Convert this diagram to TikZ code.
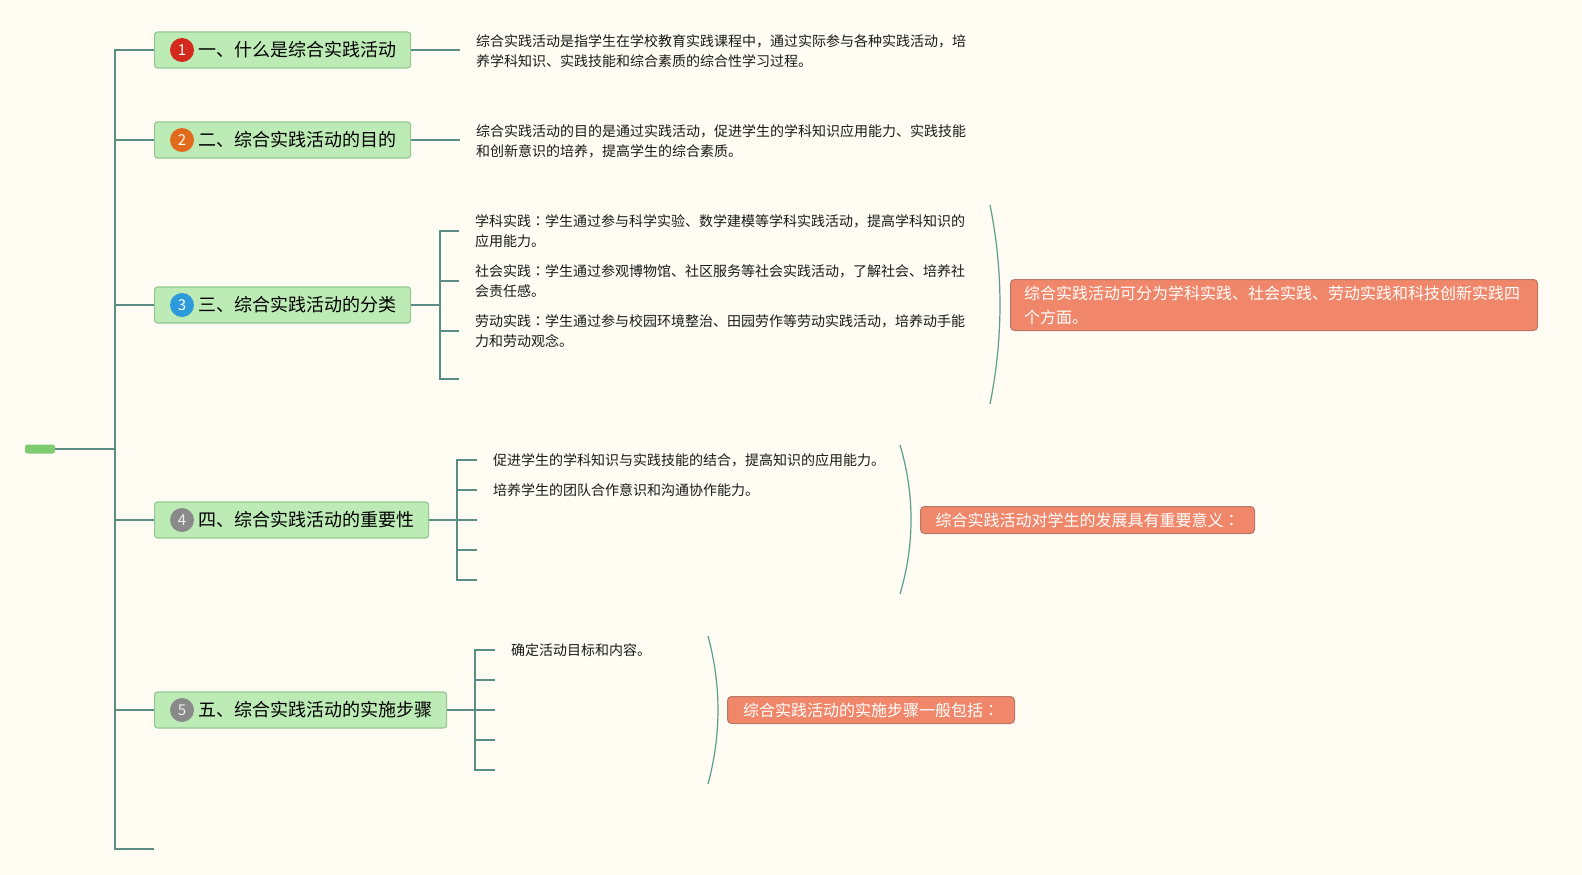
\documentclass[tikz,border=0pt]{standalone}
\usepackage{fontspec}
\setmainfont{Noto Sans CJK SC}
\newfontfamily\tcfont{Noto Sans CJK TC}
\newcommand{\cc}{{\tcfont ：}}
\usetikzlibrary{calc}
\definecolor{bg}{HTML}{FEFCF3}
\definecolor{conn}{HTML}{5C8D84}
\definecolor{curvec}{HTML}{5E9D8C}
\definecolor{gfill}{HTML}{BDEBB5}
\definecolor{gdraw}{HTML}{94C892}
\definecolor{ofill}{HTML}{F0876A}
\definecolor{odraw}{HTML}{B87A66}
\definecolor{rootc}{HTML}{7DCB6E}
\definecolor{ic1}{HTML}{D42A1E}
\definecolor{ic2}{HTML}{E26A1C}
\definecolor{ic3}{HTML}{2C9ADB}
\definecolor{ic4}{HTML}{8A8A8A}
\definecolor{txt}{HTML}{1A1A1A}
\tikzset{
  topic/.style={draw=gdraw, fill=gfill, line width=1.2pt, rounded corners=3pt, anchor=west,
    minimum height=36pt, inner xsep=14.5pt, inner ysep=0pt, text=black,
    font=\fontsize{18}{22}\selectfont},
  icon/.style={circle, minimum size=24pt, inner sep=0pt, text=white, font=\fontsize{15}{15}\selectfont},
  detail/.style={anchor=west, align=left, inner xsep=16pt, inner ysep=0pt, text=txt,
    font=\fontsize{14}{20}\selectfont},
  summary/.style={draw=odraw, fill=ofill, line width=1pt, rounded corners=4pt, anchor=west,
    text=white, inner ysep=0pt, font=\fontsize{16}{24}\selectfont},
  cline/.style={draw=conn, line width=2pt},
  brace/.style={draw=curvec, line width=1.2pt},
}
\begin{document}
\begin{tikzpicture}[x=1pt, y=-1pt]
\fill[bg] (0,0) rectangle (1582,875);
\useasboundingbox (0,0) rectangle (1582,875);

% root
\node[fill=rootc, rounded corners=2.5pt, minimum width=30pt, minimum height=9pt, inner sep=0pt] (root) at (40,449) {};
\coordinate (trunk) at (115,449);
\coordinate (tbot) at (154,849);

% topics
\node[topic] (n1) at (154,50) {\hspace*{29pt}一、什么是综合实践活动};
\node[topic] (n2) at (154,140) {\hspace*{29pt}二、综合实践活动的目的};
\node[topic] (n3) at (154,305) {\hspace*{29pt}三、综合实践活动的分类};
\node[topic] (n4) at (154,520) {\hspace*{29pt}四、综合实践活动的重要性};
\node[topic] (n5) at (154,710) {\hspace*{29pt}五、综合实践活动的实施步骤};

\node[icon, fill=ic1] (i1) at ($(n1.west)+(28,0)$) {1};
\node[icon, fill=ic2] (i2) at ($(n2.west)+(28,0)$) {2};
\node[icon, fill=ic3] (i3) at ($(n3.west)+(28,0)$) {3};
\node[icon, fill=ic4, text=white!88!gray] (i4) at ($(n4.west)+(28,0)$) {4};
\node[icon, fill=ic4, text=white!88!gray] (i5) at ($(n5.west)+(28,0)$) {5};

% trunk
\draw[cline] (n1.west) -- (n1.west -| trunk) -- (tbot -| trunk) -- (tbot);
\draw[cline] (root.east) -- (trunk);
\draw[cline] (n2.west) -- (n2.west -| trunk);
\draw[cline] (n3.west) -- (n3.west -| trunk);
\draw[cline] (n4.west) -- (n4.west -| trunk);
\draw[cline] (n5.west) -- (n5.west -| trunk);

% details 1, 2
\node[detail] (t1) at (460,51) {综合实践活动是指学生在学校教育实践课程中，通过实际参与各种实践活动，培\\养学科知识、实践技能和综合素质的综合性学习过程。};
\node[detail] (t2) at (460,141) {综合实践活动的目的是通过实践活动，促进学生的学科知识应用能力、实践技能\\和创新意识的培养，提高学生的综合素质。};
\draw[cline] (n1.east) -- (t1.west |- n1.east);
\draw[cline] (n2.east) -- (t2.west |- n2.east);

% topic 3
\coordinate (k3) at (440,305);
\coordinate (e3) at (459,379);
\node[detail] (t3a) at (459,231) {学科实践\cc 学生通过参与科学实验、数学建模等学科实践活动，提高学科知识的\\应用能力。};
\node[detail] (t3b) at (459,281) {社会实践\cc 学生通过参观博物馆、社区服务等社会实践活动，了解社会、培养社\\会责任感。};
\node[detail] (t3c) at (459,331) {劳动实践\cc 学生通过参与校园环境整治、田园劳作等劳动实践活动，培养动手能\\力和劳动观念。};
\draw[cline] (n3.east) -- (k3);
\draw[cline] (t3a.west) -- (k3 |- t3a.west) -- (k3 |- e3) -- (e3);
\draw[cline] (t3b.west) -- (k3 |- t3b.west);
\draw[cline] (t3c.west) -- (k3 |- t3c.west);
\draw[brace] (990,205) .. controls (1003.3,271) and (1003.3,338) .. (990,404);
\node[summary, minimum height=51pt, text width=500pt, inner xsep=13.5pt, align=left] (o3) at (1010,305) {综合实践活动可分为学科实践、社会实践、劳动实践和科技创新实践四\\个方面。};

% topic 4
\coordinate (k4) at (457,520);
\coordinate (e4c) at (477,520);
\coordinate (e4d) at (477,550);
\coordinate (e4e) at (477,580);
\node[detail] (t4a) at (477,460) {促进学生的学科知识与实践技能的结合，提高知识的应用能力。};
\node[detail] (t4b) at (477,490) {培养学生的团队合作意识和沟通协作能力。};
\draw[cline] (n4.east) -- (k4);
\draw[cline] (t4a.west) -- (k4 |- t4a.west) -- (k4 |- e4e) -- (e4e);
\draw[cline] (t4b.west) -- (k4 |- t4b.west);
\draw[cline] (k4 |- e4c) -- (e4c);
\draw[cline] (k4 |- e4d) -- (e4d);
\draw[brace] (900,445) .. controls (914.7,494) and (914.7,545) .. (900,594);
\node[summary, minimum height=27pt, minimum width=334pt, inner xsep=8pt] (o4) at (920,520) {综合实践活动对学生的发展具有重要意义\cc};

% topic 5
\coordinate (k5) at (475,710);
\coordinate (e5b) at (495,680);
\coordinate (e5c) at (495,710);
\coordinate (e5d) at (495,740);
\coordinate (e5e) at (495,770);
\node[detail] (t5a) at (495,650) {确定活动目标和内容。};
\draw[cline] (n5.east) -- (k5);
\draw[cline] (t5a.west) -- (k5 |- t5a.west) -- (k5 |- e5e) -- (e5e);
\draw[cline] (k5 |- e5b) -- (e5b);
\draw[cline] (k5 |- e5c) -- (e5c);
\draw[cline] (k5 |- e5d) -- (e5d);
\draw[brace] (708,636) .. controls (721.3,685) and (721.3,735) .. (708,784);
\node[summary, minimum height=27pt, minimum width=287pt, inner xsep=8pt] (o5) at (727,710) {综合实践活动的实施步骤一般包括\cc};
\end{tikzpicture}
\end{document}
